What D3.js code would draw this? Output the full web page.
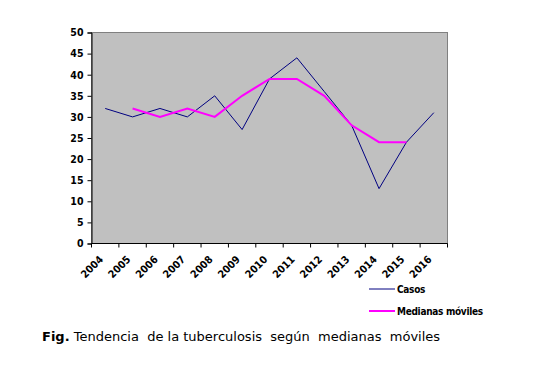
<!DOCTYPE html>
<html>
<head>
<meta charset="utf-8">
<script src="https://cdn.jsdelivr.net/npm/d3@7"></script>
<style>
  body { margin: 0; background: #fff; }
  svg { display: block; }
</style>
</head>
<body>
<div id="chart"></div>
<script>
// Data
const years = ['2004', '2005', '2006', '2007', '2008', '2009', '2010', '2011', '2012', '2013', '2014', '2015', '2016'];
const casos = [32, 30, 32, 30, 35, 27, 39, 44, 36, 28, 13, 24, 31];
// moving medians start at 2005 and end at 2015
const medianas = [null, 32, 30, 32, 30, 35, 39, 39, 35, 28, 24, 24, null];
const yTicks = [0, 5, 10, 15, 20, 25, 30, 35, 40, 45, 50];

const W = 537, H = 373;
const plot = { left: 91.5, right: 447.5, top: 32.5, bottom: 243.5 };

const svg = d3.select('#chart').append('svg')
    .attr('width', W)
    .attr('height', H);

const x = d3.scaleBand()
    .domain(years)
    .range([plot.left, plot.right])
    .padding(0);

const y = d3.scaleLinear()
    .domain([0, 50])
    .range([plot.bottom, plot.top]);

// plot area background + gray border (top/right)
svg.append('rect')
    .attr('x', plot.left)
    .attr('y', plot.top)
    .attr('width', plot.right - plot.left)
    .attr('height', plot.bottom - plot.top)
    .attr('fill', '#c0c0c0')
    .attr('stroke', '#808080')
    .attr('stroke-width', 1);

const tickFont = "'DejaVu Sans Condensed', 'DejaVu Sans', sans-serif";

// y axis
const yAxis = svg.append('g')
    .attr('transform', `translate(${plot.left},0)`)
    .call(d3.axisLeft(y).tickValues(yTicks).tickSize(4).tickPadding(4));
yAxis.select('.domain').attr('stroke', '#000');
yAxis.selectAll('line').attr('stroke', '#000');
yAxis.selectAll('text')
    .attr('font-family', tickFont)
    .attr('font-weight', 'bold')
    .attr('font-size', '10.5px')
    .attr('fill', '#000');

// x axis: ticks between categories
const xAxis = svg.append('g')
    .attr('transform', `translate(0,${plot.bottom})`);
xAxis.append('line')
    .attr('x1', plot.left).attr('x2', plot.right)
    .attr('y1', 0).attr('y2', 0)
    .attr('stroke', '#000');
xAxis.selectAll('line.tick')
    .data(years.concat(['end']))
    .join('line')
    .attr('class', 'tick')
    .attr('x1', (d, i) => plot.left + i * x.bandwidth())
    .attr('x2', (d, i) => plot.left + i * x.bandwidth())
    .attr('y1', 0).attr('y2', 4)
    .attr('stroke', '#000');
xAxis.selectAll('text')
    .data(years)
    .join('text')
    .attr('transform', d => `translate(${x(d) + x.bandwidth() / 2 - 4},${14}) rotate(-45)`)
    .attr('text-anchor', 'end')
    .attr('dy', '0.35em')
    .attr('font-family', tickFont)
    .attr('font-weight', 'bold')
    .attr('font-size', '10.5px')
    .attr('fill', '#000')
    .text(d => d);

const cx = d => x(d) + x.bandwidth() / 2;

const lineCasos = d3.line()
    .x((d, i) => cx(years[i]))
    .y(d => y(d));

svg.append('path')
    .datum(casos)
    .attr('d', lineCasos)
    .attr('fill', 'none')
    .attr('stroke', '#000080')
    .attr('stroke-width', 1);

const lineMed = d3.line()
    .defined(d => d !== null)
    .x((d, i) => cx(years[i]))
    .y(d => y(d));

svg.append('path')
    .datum(medianas)
    .attr('d', lineMed)
    .attr('fill', 'none')
    .attr('stroke', '#ff00ff')
    .attr('stroke-width', 2);

// legend
const legend = [
    { name: 'Casos', color: '#000080', width: 1 },
    { name: 'Medianas móviles', color: '#ff00ff', width: 2 }
];
const lg = svg.append('g').attr('transform', 'translate(369,289)');
legend.forEach((l, i) => {
    const row = lg.append('g').attr('transform', `translate(0,${i * 22})`);
    row.append('line')
        .attr('x1', 0).attr('x2', 26)
        .attr('stroke', l.color)
        .attr('stroke-width', l.width);
    row.append('text')
        .attr('x', 28)
        .attr('dy', '0.35em')
        .attr('font-family', tickFont)
        .attr('font-weight', 'bold')
        .attr('font-size', '10px')
        .attr('letter-spacing', '-0.3px')
        .attr('fill', '#000')
        .text(l.name);
});

// caption (spaces kept as in the original)
const cap = svg.append('text')
    .attr('x', 42)
    .attr('y', 341)
    .style('white-space', 'pre')
    .attr('font-family', 'Verdana, "DejaVu Sans", sans-serif')
    .attr('font-size', '13px')
    .attr('fill', '#000');
cap.append('tspan').attr('font-weight', 'bold').text('Fig.');
cap.append('tspan').text(' Tendencia  de la tuberculosis  según  medianas  móviles');
</script>
</body>
</html>
